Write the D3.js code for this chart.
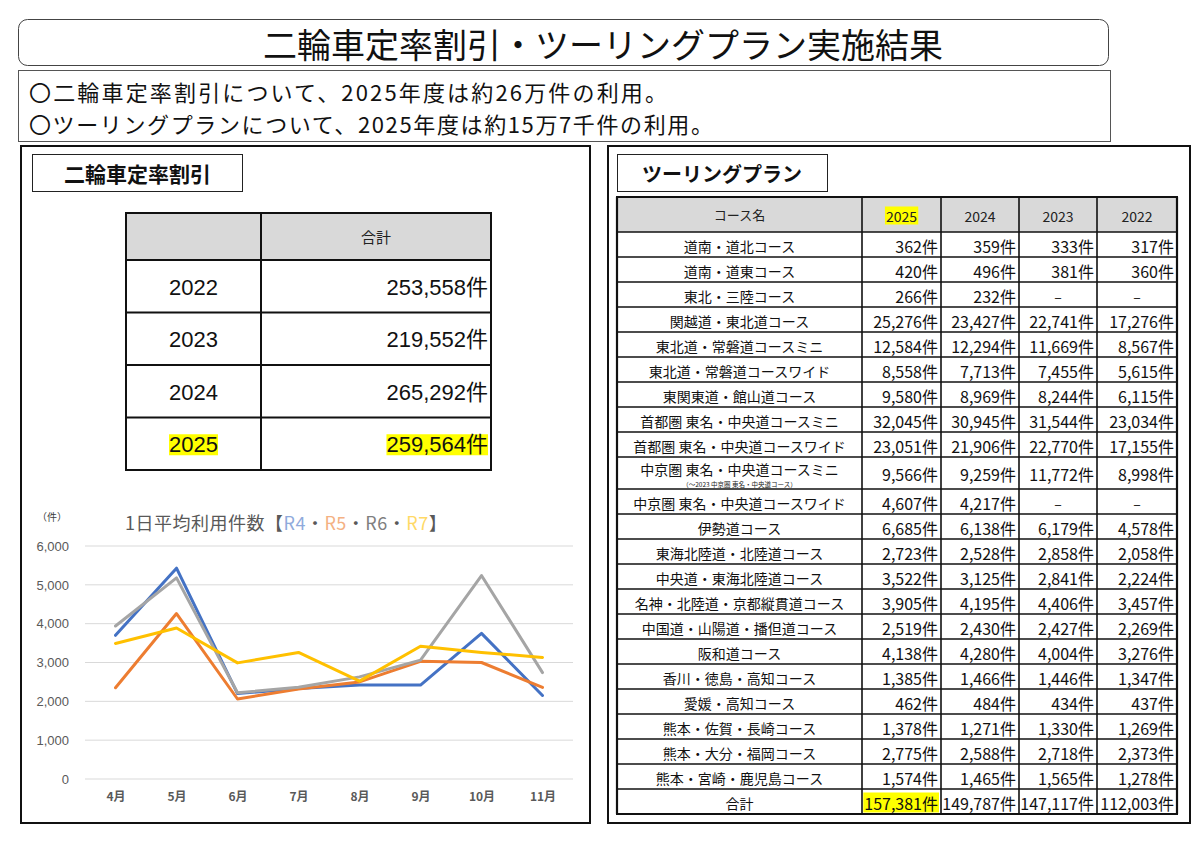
<!DOCTYPE html>
<html><head><meta charset="utf-8">
<script src="https://cdn.jsdelivr.net/npm/d3@7"></script>
<style>body{margin:0;background:#fff}</style>
</head><body><svg id="c" width="1200" height="845"></svg>
<script>
// ---------------- data ----------------
const pageTitle = "二輪車定率割引・ツーリングプラン実施結果";
const summaryLines = [
  "〇二輪車定率割引について、2025年度は約26万件の利用。",
  "〇ツーリングプランについて、2025年度は約15万7千件の利用。"
];
const leftLabel = "二輪車定率割引";
const rightLabel = "ツーリングプラン";

const discountHeader = "合計";
const discountYears = ["2022", "2023", "2024", "2025"];
const discountTotals = [253558, 219552, 265292, 259564];

const chartTitleParts = ["1日平均利用件数【", "R4", "・", "R5", "・", "R6", "・", "R7", "】"];
const chartUnit = "（件）";
const months = ["4月", "5月", "6月", "7月", "8月", "9月", "10月", "11月"];
const seriesNames = ["R4", "R5", "R6", "R7"];
const r4 = [3700, 5430, 2200, 2330, 2420, 2420, 3750, 2150];
const r5 = [2350, 4260, 2060, 2320, 2500, 3030, 3000, 2360];
const r6 = [3940, 5180, 2220, 2360, 2630, 3060, 5240, 2740];
const r7 = [3490, 3890, 2990, 3260, 2520, 3420, 3260, 3130];
const yTicks = [0, 1000, 2000, 3000, 4000, 5000, 6000];

const courseHeader = "コース名";
const courseYears = ["2025", "2024", "2023", "2022"];
const courses = [
  "道南・道北コース", "道南・道東コース", "東北・三陸コース", "関越道・東北道コース",
  "東北道・常磐道コースミニ", "東北道・常磐道コースワイド", "東関東道・館山道コース",
  "首都圏 東名・中央道コースミニ", "首都圏 東名・中央道コースワイド",
  "中京圏 東名・中央道コースミニ", "中京圏 東名・中央道コースワイド",
  "伊勢道コース", "東海北陸道・北陸道コース", "中央道・東海北陸道コース",
  "名神・北陸道・京都縦貫道コース", "中国道・山陽道・播但道コース", "阪和道コース",
  "香川・徳島・高知コース", "愛媛・高知コース", "熊本・佐賀・長崎コース",
  "熊本・大分・福岡コース", "熊本・宮崎・鹿児島コース"
];
const courseNote = "（～2023 中京圏 東名・中央道コース）";
const noteRow = 9;
const v2025 = [362, 420, 266, 25276, 12584, 8558, 9580, 32045, 23051, 9566, 4607, 6685, 2723, 3522, 3905, 2519, 4138, 1385, 462, 1378, 2775, 1574];
const v2024 = [359, 496, 232, 23427, 12294, 7713, 8969, 30945, 21906, 9259, 4217, 6138, 2528, 3125, 4195, 2430, 4280, 1466, 484, 1271, 2588, 1465];
const v2023 = [333, 381, null, 22741, 11669, 7455, 8244, 31544, 22770, 11772, null, 6179, 2858, 2841, 4406, 2427, 4004, 1446, 434, 1330, 2718, 1565];
const v2022 = [317, 360, null, 17276, 8567, 5615, 6115, 23034, 17155, 8998, null, 4578, 2058, 2224, 3457, 2269, 3276, 1347, 437, 1269, 2373, 1278];
const totalLabel = "合計";
const courseTotals = [157381, 149787, 147117, 112003];

// ---------------- helpers ----------------
const JP = "'Noto Sans CJK JP', sans-serif";
const NUM = "'Liberation Sans Narrow', 'Noto Sans CJK JP', sans-serif";
const ARIAL = "'Liberation Sans', 'Noto Sans CJK JP', sans-serif";
const fmt = d3.format(",");
const HL = "#ffff00";
const svg = d3.select("#c");

function highlight(t, padX = 1, padY = 1) {
  const b = t.node().getBBox();
  svg.insert("rect", () => t.node())
    .attr("x", b.x - padX).attr("y", b.y + padY).attr("width", b.width + 2 * padX)
    .attr("height", b.height - 2 * padY).attr("fill", HL);
}

// ---------------- header ----------------
svg.append("rect").attr("x", 18.5).attr("y", 19.5).attr("width", 1090).attr("height", 46)
  .attr("rx", 9).attr("fill", "none").attr("stroke", "#444").attr("stroke-width", 1);
svg.append("text").attr("x", 603).attr("y", 43).attr("text-anchor", "middle")
  .attr("dominant-baseline", "central").attr("font-family", JP).attr("font-size", 34)
  .attr("fill", "#111").text(pageTitle);

svg.append("rect").attr("x", 18.5).attr("y", 70.5).attr("width", 1092).attr("height", 71)
  .attr("fill", "none").attr("stroke", "#555").attr("stroke-width", 1);
const sumWidths = [638, 684];
svg.selectAll("text.sum").data(summaryLines).join("text").attr("class", "sum")
  .attr("x", 29).attr("y", (d, i) => 91 + i * 32).attr("dominant-baseline", "central")
  .attr("font-family", JP).attr("font-size", 22).attr("fill", "#111")
  .attr("textLength", (d, i) => sumWidths[i]).attr("lengthAdjust", "spacing").text(d => d);

// ---------------- panels ----------------
svg.append("rect").attr("x", 21).attr("y", 146).attr("width", 569).attr("height", 677)
  .attr("fill", "none").attr("stroke", "#111").attr("stroke-width", 2);
svg.append("rect").attr("x", 608).attr("y", 146).attr("width", 582).attr("height", 677)
  .attr("fill", "none").attr("stroke", "#111").attr("stroke-width", 2);

svg.append("rect").attr("x", 32.5).attr("y", 154.5).attr("width", 210).attr("height", 37)
  .attr("fill", "#fff").attr("stroke", "#222").attr("stroke-width", 1);
svg.append("text").attr("x", 137.5).attr("y", 173).attr("text-anchor", "middle")
  .attr("dominant-baseline", "central").attr("font-family", JP).attr("font-size", 21)
  .attr("font-weight", "bold").attr("fill", "#111").text(leftLabel);

svg.append("rect").attr("x", 617.5).attr("y", 154.5).attr("width", 210).attr("height", 37)
  .attr("fill", "#fff").attr("stroke", "#222").attr("stroke-width", 1);
svg.append("text").attr("x", 722).attr("y", 173).attr("text-anchor", "middle")
  .attr("dominant-baseline", "central").attr("font-family", JP).attr("font-size", 20)
  .attr("font-weight", "bold").attr("fill", "#111").text(rightLabel);

// ---------------- discount summary table ----------------
{
  const x0 = 126, x1 = 261, x2 = 491, yH = 213, hH = 47, hR = 52.5;
  const g = svg.append("g");
  g.append("rect").attr("x", x0).attr("y", yH).attr("width", x2 - x0).attr("height", hH).attr("fill", "#d9d9d9");
  g.append("text").attr("x", (x1 + x2) / 2).attr("y", yH + hH / 2).attr("text-anchor", "middle")
    .attr("dominant-baseline", "central").attr("font-family", JP).attr("font-size", 15).attr("fill", "#222").text(discountHeader);
  const yBottom = yH + hH + hR * discountYears.length;
  const hy = [yH, yH + hH].concat(discountYears.map((d, i) => yH + hH + hR * (i + 1)));
  g.selectAll("line.h").data(hy).join("line").attr("x1", x0 - 1).attr("x2", x2 + 1)
    .attr("y1", d => d).attr("y2", d => d).attr("stroke", "#111").attr("stroke-width", 2);
  g.selectAll("line.v").data([x0, x1, x2]).join("line").attr("class", "v").attr("x1", d => d).attr("x2", d => d)
    .attr("y1", yH).attr("y2", yBottom).attr("stroke", "#111").attr("stroke-width", 2);
  discountYears.forEach((yr, i) => {
    const cy = yH + hH + hR * i + hR / 2 + 1;
    const t1 = svg.append("text").attr("x", (x0 + x1) / 2).attr("y", cy).attr("text-anchor", "middle")
      .attr("dominant-baseline", "central").attr("font-family", ARIAL).attr("font-size", 22).attr("fill", "#111").text(yr);
    const t2 = svg.append("text").attr("x", x2 - 3).attr("y", cy).attr("text-anchor", "end")
      .attr("dominant-baseline", "central").attr("font-family", ARIAL).attr("font-size", 22).attr("fill", "#111")
      .text(fmt(discountTotals[i]) + "件");
    if (i === discountYears.length - 1) { highlight(t1, 0, 2); highlight(t2, 0, 2); }
  });
}

// ---------------- line chart ----------------
{
  const x = d3.scalePoint().domain(months).range([85, 573]).padding(0.5);
  const y = d3.scaleLinear().domain([0, 6000]).range([779, 546]);
  const g = svg.append("g");
  g.selectAll("line.grid").data(yTicks).join("line").attr("class", "grid")
    .attr("x1", 85).attr("x2", 573).attr("y1", d => y(d)).attr("y2", d => y(d))
    .attr("stroke", "#d9d9d9").attr("stroke-width", 1);
  const yAxis = g.append("g").attr("transform", "translate(85,0)")
    .call(d3.axisLeft(y).tickValues(yTicks).tickFormat(d3.format(",")).tickSize(0).tickPadding(16));
  yAxis.select(".domain").remove();
  yAxis.selectAll("text").attr("font-family", ARIAL).attr("font-size", 13).attr("fill", "#595959");
  const xAxis = g.append("g").attr("transform", "translate(0,788)")
    .call(d3.axisBottom(x).tickSize(0).tickPadding(4));
  xAxis.select(".domain").remove();
  xAxis.selectAll("text").attr("font-family", JP).attr("font-size", 12).attr("font-weight", "bold").attr("fill", "#595959");

  const series = [r4, r5, r6, r7];
  const colors = ["#4472c4", "#ed7d31", "#a5a5a5", "#ffc000"];
  const line = d3.line().x((d, i) => x(months[i])).y(d => y(d));
  g.selectAll("path.ser").data(series).join("path").attr("class", "ser")
    .attr("d", d => line(d)).attr("fill", "none").attr("stroke", (d, i) => colors[i])
    .attr("stroke-width", 3).attr("stroke-linejoin", "round").attr("stroke-linecap", "round");

  const titleColors = ["#595959", "#8faadc", "#595959", "#f4b183", "#595959", "#7f7f7f", "#595959", "#ffd966", "#595959"];
  const tt = g.append("text").attr("x", 125).attr("y", 522).attr("dominant-baseline", "central")
    .attr("font-family", JP).attr("font-size", 18).attr("letter-spacing", 0.5);
  tt.selectAll("tspan").data(chartTitleParts).join("tspan").attr("fill", (d, i) => titleColors[i]).text(d => d);
  g.append("text").attr("x", 52).attr("y", 516).attr("text-anchor", "middle").attr("dominant-baseline", "central")
    .attr("font-family", JP).attr("font-size", 10).attr("fill", "#404040").text(chartUnit);
}

// ---------------- touring plan table ----------------
{
  const colX = [617, 862, 941, 1019, 1097, 1177];
  const yH = 197, hH = 35, hR = 25, hTall = 32;
  const g = svg.append("g");
  g.append("rect").attr("x", colX[0]).attr("y", yH).attr("width", colX[5] - colX[0]).attr("height", hH).attr("fill", "#d9d9d9");
  const rowH = courses.map((c, i) => i === noteRow ? hTall : hR).concat([hR]);
  const rowY = [];
  let yy = yH + hH;
  rowH.forEach(h => { rowY.push(yy); yy += h; });
  const yBottom = yy;
  const hLines = [yH, yH + hH].concat(rowY.map((r, i) => r + rowH[i]));
  g.selectAll("line.h").data(hLines).join("line").attr("class", "h")
    .attr("x1", colX[0] - 1).attr("x2", colX[5] + 1).attr("y1", d => d).attr("y2", d => d)
    .attr("stroke", "#111").attr("stroke-width", (d, i) => (i === 0 || i === hLines.length - 1) ? 2.2 : 1.6);
  g.selectAll("line.v").data(colX).join("line").attr("class", "v")
    .attr("x1", d => d).attr("x2", d => d).attr("y1", yH).attr("y2", yBottom)
    .attr("stroke", "#111").attr("stroke-width", (d, i) => (i === 0 || i === colX.length - 1) ? 2.2 : 1.6);

  g.append("text").attr("x", (colX[0] + colX[1]) / 2).attr("y", yH + hH / 2).attr("text-anchor", "middle")
    .attr("dominant-baseline", "central").attr("font-family", JP).attr("font-size", 13).attr("fill", "#222").text(courseHeader);
  courseYears.forEach((yr, j) => {
    const t = svg.append("text").attr("x", (colX[j + 1] + colX[j + 2]) / 2).attr("y", yH + hH / 2 + 1)
      .attr("text-anchor", "middle").attr("dominant-baseline", "central").attr("font-family", NUM)
      .attr("font-size", 14).attr("fill", "#222").text(yr);
    if (j === 0) highlight(t, 1, 1);
  });

  const cols = [v2025, v2024, v2023, v2022];
  courses.forEach((name, i) => {
    const cy = rowY[i] + rowH[i] / 2 + 1;
    if (i === noteRow) {
      svg.append("text").attr("x", (colX[0] + colX[1]) / 2).attr("y", cy - 5).attr("text-anchor", "middle")
        .attr("dominant-baseline", "central").attr("font-family", JP).attr("font-size", 14).attr("fill", "#111").text(name);
      svg.append("text").attr("x", (colX[0] + colX[1]) / 2).attr("y", cy + 10).attr("text-anchor", "middle")
        .attr("dominant-baseline", "central").attr("font-family", JP).attr("font-size", 6.5).attr("fill", "#222").text(courseNote);
    } else {
      svg.append("text").attr("x", (colX[0] + colX[1]) / 2).attr("y", cy).attr("text-anchor", "middle")
        .attr("dominant-baseline", "central").attr("font-family", JP).attr("font-size", 14).attr("fill", "#111").text(name);
    }
    cols.forEach((arr, j) => {
      const v = arr[i];
      if (v == null) {
        svg.append("text").attr("x", (colX[j + 1] + colX[j + 2]) / 2).attr("y", cy).attr("text-anchor", "middle")
          .attr("dominant-baseline", "central").attr("font-family", NUM).attr("font-size", 14).attr("fill", "#111").text("–");
      } else {
        svg.append("text").attr("x", colX[j + 2] - 3).attr("y", cy).attr("text-anchor", "end")
          .attr("dominant-baseline", "central").attr("font-family", NUM).attr("font-size", 16).attr("fill", "#111")
          .text(fmt(v) + "件");
      }
    });
  });
  const ti = courses.length;
  const cyT = rowY[ti] + rowH[ti] / 2 + 1;
  svg.append("text").attr("x", (colX[0] + colX[1]) / 2).attr("y", cyT).attr("text-anchor", "middle")
    .attr("dominant-baseline", "central").attr("font-family", JP).attr("font-size", 14).attr("fill", "#111").text(totalLabel);
  courseTotals.forEach((v, j) => {
    const t = svg.append("text").attr("x", colX[j + 2] - 3).attr("y", cyT).attr("text-anchor", "end")
      .attr("dominant-baseline", "central").attr("font-family", NUM).attr("font-size", 16).attr("fill", "#111")
      .text(fmt(v) + "件");
    if (j === 0) highlight(t, 1, 2);
  });
}
</script>
</body></html>
